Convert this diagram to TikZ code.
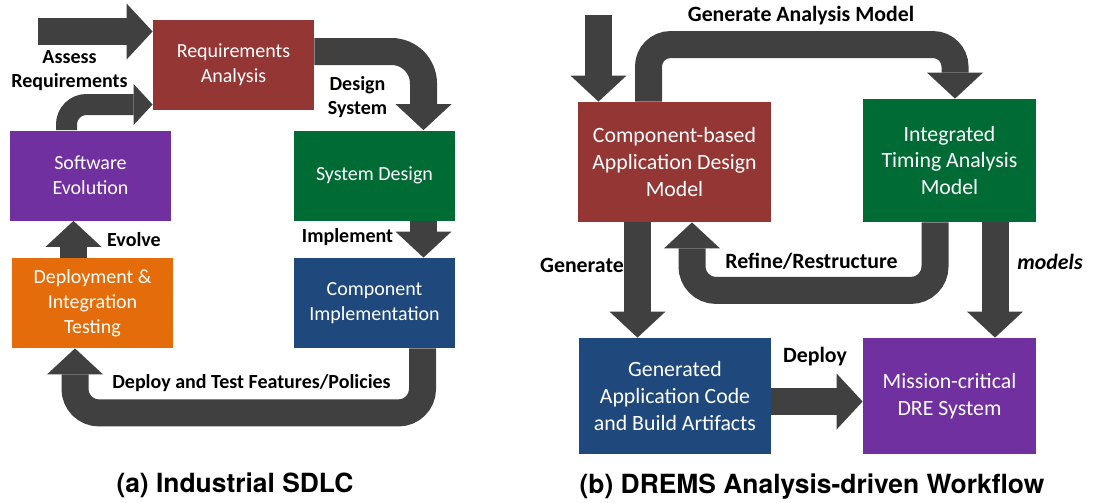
\documentclass[tikz,border=0pt]{standalone}
\usepackage{fontspec}
\setmainfont{Carlito}
\newfontfamily\capfont{TeX Gyre Heros}
\usetikzlibrary{arrows.meta,calc}
\definecolor{reqred}{HTML}{943634}
\definecolor{desgreen}{HTML}{006B34}
\definecolor{evopurple}{HTML}{7030A0}
\definecolor{deporange}{HTML}{E46C0A}
\definecolor{impblue}{HTML}{1F497D}
\definecolor{flowgray}{HTML}{404040}
\tikzset{
  stage/.style={fill=#1,text=white,align=center,inner sep=0pt,minimum width=80.5pt,minimum height=45pt,font=\fontsize{10}{12.5}\selectfont},
  bigstage/.style={stage=#1,font=\fontsize{10.9}{13.3}\selectfont},
  fat/.style={draw=flowgray,line width=13.5pt,-{Triangle[width=28pt,length=13pt,line width=0pt]}},
  thinfat/.style={draw=flowgray,line width=10.5pt,-{Triangle[width=20.5pt,length=9.5pt,line width=0pt]}},
  lbl/.style={align=center,inner sep=0pt,font=\fontsize{10}{12}\selectfont\bfseries},
  biglbl/.style={lbl,font=\fontsize{10.9}{13}\selectfont\bfseries},
  caption/.style={inner sep=0pt,font=\capfont\fontsize{13.2}{15}\selectfont\bfseries}
}
\begin{document}
\begin{tikzpicture}[x=0.5pt,y=-0.5pt]
	\useasboundingbox (0,0) rectangle (1093,503);

	\node[stage=reqred] (req) at (233.5,65) {Requirements\\Analysis};
	\node[stage=desgreen] (sysd) at (374.5,175.5) {System Design};
	\node[stage=evopurple] (evo) at (90.5,175.5) {Software\\Evolution};
	\node[stage=deporange] (dep) at (92.5,303) {Deployment \&\\Integration\\Testing};
	\node[stage=impblue] (impl) at (374.5,303) {Component\\Implementation};

	\coordinate (inA) at (38,31.5);
	\draw[fat] (inA) -- (inA -| req.west);
	\draw[thinfat,rounded corners=10pt] ($(evo.north)+(-24,0)$) |- ($(req.west)+(0,39.5)$);
	\draw[fat,rounded corners=16pt] ($(req.east)+(0,-13.5)$) -| ($(sysd.north)+(49,0)$);
	\draw[fat] ($(sysd.south)+(49,0)$) -- ($(impl.north)+(49,0)$);
	\draw[fat,rounded corners=12pt] ($(impl.south)+(48,0)$) -- ++(0,64.5) -| ($(dep.south)+(-17.5,0)$);
	\draw[fat] ($(dep.north)+(-19,0)$) -- ($(evo.south)+(-17,0)$);

	\node[lbl] (assess) at (69.5,70.5) {Assess\\Requirements};
	\node[lbl] (design) at (357.5,97.5) {Design\\System};
	\node[lbl] (evolve) at (134,240) {Evolve};
	\node[lbl] (implement) at (347.5,237) {Implement};
	\node[lbl] (deploytest) at (251.5,383) {Deploy and Test Features/Policies};
	\node[caption] (capa) at (235,485) {(a) Industrial SDLC};

	\node[bigstage=reqred,minimum width=96.5pt,minimum height=60pt] (cad) at (674.5,162) {Component-based\\Application Design\\Model};
	\node[bigstage=desgreen,minimum width=86.5pt,minimum height=61.5pt] (ita) at (949.5,160.5) {Integrated\\Timing Analysis\\Model};
	\node[bigstage=impblue,minimum width=96pt,minimum height=58pt] (gen) at (675,396) {Generated\\Application Code\\and Build Artifacts};
	\node[bigstage=evopurple,minimum width=86.5pt,minimum height=58pt] (dre) at (949.5,396) {Mission-critical\\DRE System};

	\coordinate (inB) at (598.5,15);
	\draw[fat] (inB) -- (inB |- cad.north);
	\draw[fat,rounded corners=11pt] ($(cad.north)+(-26,0)$) -- ++(0,-57) -| ($(ita.north)+(5.5,0)$);
	\draw[fat] ($(cad.south)+(-37,0)$) -- ($(gen.north)+(-37.5,0)$);
	\draw[fat,rounded corners=12pt] ($(ita.south)+(-14.5,0)$) -- ++(0,68) -| ($(cad.south)+(17.5,0)$);
	\draw[fat] ($(ita.south)+(45.5,0)$) -- ($(dre.north)+(45.5,0)$);
	\draw[fat] ($(gen.east)+(0,5.5)$) -- ($(dre.west)+(0,5.5)$);

	\node[biglbl] (genmodel) at (801,16) {Generate Analysis Model};
	\node[biglbl] (generate) at (582,265) {Generate};
	\node[biglbl] (refine) at (811.5,261) {Refine/Restructure};
	\node[biglbl] (models) at (1050,262) {\itshape models};
	\node[biglbl] (deploy) at (815,357) {Deploy};
	\node[caption] (capb) at (812,487) {(b) DREMS Analysis-driven Workflow};
\end{tikzpicture}
\end{document}
